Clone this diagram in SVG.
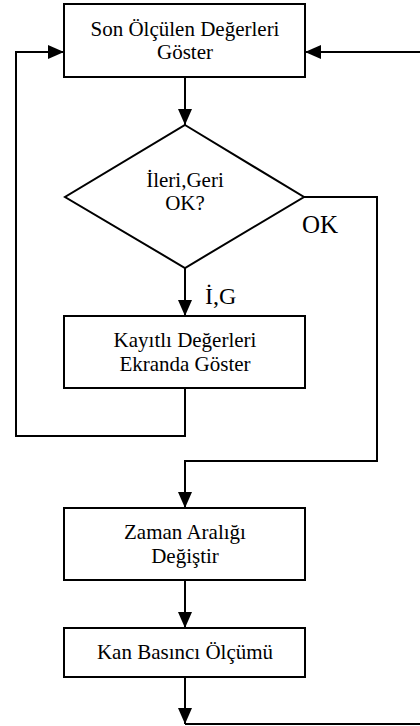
<svg xmlns="http://www.w3.org/2000/svg" width="420" height="726" viewBox="0 0 420 726">
<style>
.box{fill:#fff;stroke:#000;stroke-width:2}
.ln{fill:none;stroke:#000;stroke-width:2}
text{font-family:'Liberation Serif','Times New Roman','Tinos','Nimbus Roman','Nimbus Roman No9 L','DejaVu Serif',serif;fill:#000;text-anchor:middle}
.t{font-size:21px}
.lbl{font-size:25px;text-anchor:start}
</style>
<defs>
<marker id="ah" viewBox="0 0 16 14" refX="16" refY="7" markerWidth="16" markerHeight="14" markerUnits="userSpaceOnUse" orient="auto">
<path d="M0,0 L16,7 L0,14 Z" fill="#000"/>
</marker>
</defs>
<g id="connectors">
<line class="ln" x1="185" y1="77" x2="185" y2="125" marker-end="url(#ah)"/>
<line class="ln" x1="185" y1="268" x2="185" y2="316" marker-end="url(#ah)"/>
<polyline class="ln" points="185,388 185,436 16,436 16,52 64,52" marker-end="url(#ah)"/>
<polyline class="ln" points="304,197 377,197 377,461 185,461 185,508" marker-end="url(#ah)"/>
<line class="ln" x1="185" y1="580" x2="185" y2="628" marker-end="url(#ah)"/>
<line class="ln" x1="185" y1="677" x2="185" y2="724" marker-end="url(#ah)"/>
<line class="ln" x1="185" y1="724" x2="420" y2="724"/>
<line class="ln" x1="420" y1="52" x2="305" y2="52" marker-end="url(#ah)"/>
<text class="lbl" x="302" y="233">OK</text>
<text class="lbl" x="205" y="304" style="font-size:24px">İ,G</text>
</g>
<g id="show-last">
<rect class="box" x="64" y="4" width="241" height="73"/>
<text class="t" x="185" y="36">Son Ölçülen Değerleri</text>
<text class="t" x="185" y="59">Göster</text>
</g>
<g id="decision">
<polygon class="box" points="185,125 304,197 185,268 65,197"/>
<text class="t" x="185" y="187">İleri,Geri</text>
<text class="t" x="185" y="210">OK?</text>
</g>
<g id="show-saved">
<rect class="box" x="64" y="316" width="241" height="72"/>
<text class="t" x="185" y="347">Kayıtlı Değerleri</text>
<text class="t" x="185" y="371">Ekranda Göster</text>
</g>
<g id="change-interval">
<rect class="box" x="64" y="508" width="241" height="72"/>
<text class="t" x="185" y="539">Zaman Aralığı</text>
<text class="t" x="185" y="563">Değiştir</text>
</g>
<g id="measure">
<rect class="box" x="64" y="628" width="241" height="49"/>
<text class="t" x="185" y="659">Kan Basıncı Ölçümü</text>
</g>
</svg>
